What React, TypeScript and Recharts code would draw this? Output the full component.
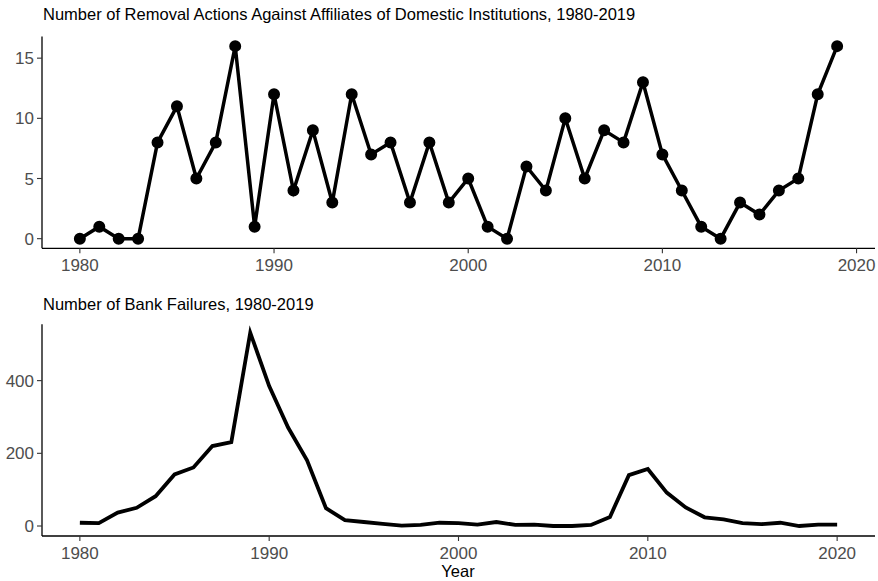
import React from "react";
import { Line, LineChart, XAxis, YAxis } from "recharts";

const years = [
  1980, 1981, 1982, 1983, 1984, 1985, 1986, 1987, 1988, 1989,
  1990, 1991, 1992, 1993, 1994, 1995, 1996, 1997, 1998, 1999,
  2000, 2001, 2002, 2003, 2004, 2005, 2006, 2007, 2008, 2009,
  2010, 2011, 2012, 2013, 2014, 2015, 2016, 2017, 2018, 2019, 2020,
];

const removals = [
  0, 1, 0, 0, 8, 11, 5, 8, 16, 1,
  12, 4, 9, 3, 12, 7, 8, 3, 8, 3,
  5, 1, 0, 6, 4, 10, 5, 9, 8, 13,
  7, 4, 1, 0, 3, 2, 4, 5, 12, 16,
];

const failures = [
  9, 8, 37, 50, 82, 142, 161, 220, 231, 532,
  385, 271, 181, 49, 16, 11, 6, 1, 3, 9,
  8, 4, 11, 3, 4, 0, 0, 3, 25, 140,
  157, 92, 51, 24, 18, 8, 5, 9, 0, 4, 4,
];

const xTicks = [1980, 1990, 2000, 2010, 2020];
const removalTicks = [0, 5, 10, 15];
const failureTicks = [0, 200, 400];

const removalData = removals.map((v, i) => ({ year: years[i], value: v }));
const failureData = failures.map((v, i) => ({ year: years[i], value: v }));

const FONT = "'Liberation Sans', Arial, sans-serif";
const tickStyle = { fontSize: 17, fill: "#4d4d4d", fontFamily: FONT };
const axisLine = { stroke: "#000", strokeWidth: 1.3 };
const tickLine = { stroke: "#333", strokeWidth: 1.1 };

const titleStyle: React.CSSProperties = {
  position: "absolute",
  left: 43,
  fontFamily: FONT,
  fontSize: 16.5,
  lineHeight: "16.5px",
  color: "#000",
  whiteSpace: "nowrap",
};

export default function App() {
  return (
    <div style={{ position: "absolute", left: 0, top: 0, width: 878, height: 581, background: "#fff" }}>
      <div style={{ ...titleStyle, top: 6.3 }}>
        Number of Removal Actions Against Affiliates of Domestic Institutions, 1980-2019
      </div>
      <div style={{ position: "absolute", left: 0, top: 0 }}>
        <LineChart width={878} height={290} data={removalData} margin={{ top: 36.5, right: 3, bottom: 0, left: 0 }}>
          <XAxis
            dataKey="year"
            type="number"
            domain={[1978.05, 2020.95]}
            ticks={xTicks}
            allowDataOverflow
            height={41.7}
            tick={tickStyle}
            tickSize={5}
            tickMargin={6}
            axisLine={axisLine}
            tickLine={tickLine}
          />
          <YAxis
            type="number"
            domain={[-0.8, 16.8]}
            ticks={removalTicks}
            allowDataOverflow
            width={42}
            tick={tickStyle}
            tickSize={5}
            tickMargin={3}
            axisLine={axisLine}
            tickLine={tickLine}
          />
          <Line
            dataKey="value"
            stroke="#000"
            strokeWidth={3.5}
            dot={{ r: 5, fill: "#000", stroke: "#000", strokeWidth: 2 }}
            activeDot={false}
            isAnimationActive={false}
          />
        </LineChart>
      </div>
      <div style={{ ...titleStyle, top: 295.5 }}>Number of Bank Failures, 1980-2019</div>
      <div style={{ position: "absolute", left: 0, top: 290 }}>
        <LineChart width={878} height={291} data={failureData} margin={{ top: 34.3, right: 3, bottom: 0, left: 0 }}>
          <XAxis
            dataKey="year"
            type="number"
            domain={[1978, 2022]}
            ticks={xTicks}
            allowDataOverflow
            height={45}
            tick={tickStyle}
            tickSize={5}
            tickMargin={6}
            axisLine={axisLine}
            tickLine={tickLine}
          />
          <YAxis
            type="number"
            domain={[-27.5, 555]}
            ticks={failureTicks}
            allowDataOverflow
            width={42}
            tick={tickStyle}
            tickSize={5}
            tickMargin={3}
            axisLine={axisLine}
            tickLine={tickLine}
          />
          <Line
            dataKey="value"
            stroke="#000"
            strokeWidth={3.8}
            dot={false}
            activeDot={false}
            isAnimationActive={false}
          />
        </LineChart>
      </div>
      <div
        style={{
          position: "absolute",
          left: 358,
          width: 200,
          top: 564.8,
          textAlign: "center",
          fontFamily: FONT,
          fontSize: 16.5,
          lineHeight: "12px",
          color: "#000",
        }}
      >
        Year
      </div>
    </div>
  );
}
